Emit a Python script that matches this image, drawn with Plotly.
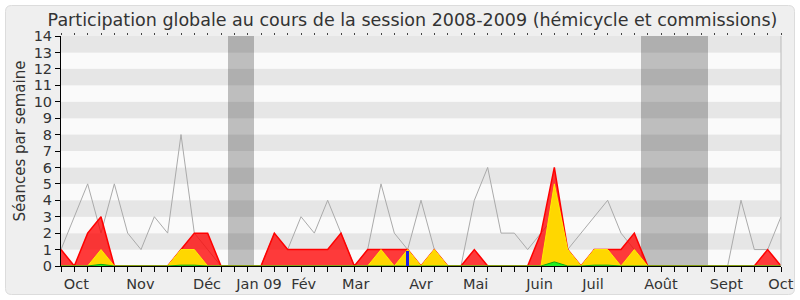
import plotly.graph_objects as go

# ---- data (one value per week, week 0 = first week of October 2008) ----
semaines = list(range(55))
presences = [1, 0, 2, 3, 0, 0, 0, 0, 0, 1, 2, 2, 0, 0, 0, 0, 2, 1, 1, 1,
             1, 2, 0, 1, 1, 1, 1, 0, 1, 0, 0, 1, 0, 0, 0, 0, 2, 6, 1, 0,
             1, 1, 1, 2, 0, 0, 0, 0, 0, 0, 0, 0, 0, 1, 0]
interventions = [0, 0, 0, 1, 0, 0, 0, 0, 0, 1, 1, 0, 0, 0, 0, 0, 0, 0, 0, 0,
                 0, 0, 0, 0, 1, 0, 1, 0, 1, 0, 0, 0, 0, 0, 0, 0, 0, 5, 1, 0,
                 1, 1, 0, 1, 0, 0, 0, 0, 0, 0, 0, 0, 0, 0, 0]
questions = [0, 0, 0, 0.1, 0, 0, 0, 0, 0, 0.05, 0.05, 0, 0, 0, 0, 0, 0, 0, 0, 0,
             0, 0, 0, 0, 0, 0, 0, 0, 0, 0, 0, 0, 0, 0, 0, 0, 0, 0.25, 0, 0,
             0.05, 0.05, 0, 0, 0, 0, 0, 0, 0, 0, 0, 0, 0, 0, 0]
mediane = [1, 3, 5, 2, 5, 2, 1, 3, 2, 8, 2, 1, 0, 0, 0, 0, 2, 1, 3, 2,
           4, 2, 0, 1, 5, 2, 1, 4, 1, 0, 0, 4, 6, 2, 2, 1, 2, 3, 1, 2,
           3, 4, 2, 1, 0, 0, 0, 0, 0, 0, 0, 4, 1, 1, 3]
vacances = [13, 14, 44, 45, 46, 47, 48]
special_semaines = [26]
special_valeurs = [0.9]
mois = ["Oct", "Nov", "Déc", "Jan 09", "Fév", "Mar", "Avr", "Mai", "Juin",
        "Juil", "Août", "Sept", "Oct"]
mois_pos = [1.15, 5.95, 10.95, 14.85, 18.2, 22.1, 27.0, 31.1, 35.9, 39.9,
            45.0, 49.9, 53.99]

FONT = "DejaVu Sans"
TXT = "#333333"
L, R, T, B = 61, 19, 36, 34
W, H = 800, 300
PW, PH = W - L - R, H - T - B


def px(xp):
    return (xp - L) / PW


def py(yp):
    return (H - B - yp) / PH


fig = go.Figure()

# vacation weeks (full height)
fig.add_trace(go.Bar(x=vacances, y=[14] * len(vacances), width=1,
                     marker=dict(color="rgba(0,0,0,0.24)", line=dict(width=0)),
                     hoverinfo="skip", showlegend=False))
# median line
fig.add_trace(go.Scatter(x=semaines, y=mediane, mode="lines",
                         line=dict(color="#AAAAAA", width=1), showlegend=False))
# presences (red)
fig.add_trace(go.Scatter(x=semaines, y=presences, mode="lines", fill="tozeroy",
                         fillcolor="rgba(255,0,0,0.77)",
                         line=dict(color="#FF0000", width=1.5), showlegend=False))
# interventions (yellow)
fig.add_trace(go.Scatter(x=semaines, y=interventions, mode="lines", fill="tozeroy",
                         fillcolor="#FFD700",
                         line=dict(color="#FFEE00", width=1), showlegend=False))
# questions (green)
fig.add_trace(go.Scatter(x=semaines, y=questions, mode="lines", fill="tozeroy",
                         fillcolor="#22EE22",
                         line=dict(color="#11AA11", width=1), showlegend=False))
# blue bar on overlay axis (drawn on top)
fig.add_trace(go.Bar(x=special_semaines, y=special_valeurs, width=0.26,
                     marker=dict(color="rgb(30,30,230)", line=dict(width=0)),
                     xaxis="x2", showlegend=False))

shapes = []
r = 6
x0, x1, y0, y1 = 5.5, 794.5, 5.5, 294.5
path = (f"M {px(x0 + r)} {py(y0)} L {px(x1 - r)} {py(y0)} "
        f"Q {px(x1)} {py(y0)} {px(x1)} {py(y0 + r)} "
        f"L {px(x1)} {py(y1 - r)} Q {px(x1)} {py(y1)} {px(x1 - r)} {py(y1)} "
        f"L {px(x0 + r)} {py(y1)} Q {px(x0)} {py(y1)} {px(x0)} {py(y1 - r)} "
        f"L {px(x0)} {py(y0 + r)} Q {px(x0)} {py(y0)} {px(x0 + r)} {py(y0)} Z")
shapes.append(dict(type="path", path=path, xref="paper", yref="paper",
                   fillcolor="#EFEFEF", line=dict(color="#DCDCDC", width=1),
                   layer="below"))
for i in range(14):
    shapes.append(dict(type="rect", xref="paper", yref="y", x0=0, x1=1,
                       y0=i, y1=i + 1, line=dict(width=0), layer="below",
                       fillcolor="#E6E6E6" if i % 2 == 1 else "#FAFAFA"))
shapes.append(dict(type="line", xref="paper", yref="paper", x0=1, x1=1, y0=0,
                   y1=1, line=dict(color="#BBBBBB", width=1)))

fig.update_layout(
    width=W, height=H,
    margin=dict(l=L, r=R, t=T, b=B, pad=0, autoexpand=False),
    paper_bgcolor="white", plot_bgcolor="rgba(0,0,0,0)",
    barmode="overlay", bargap=0,
    shapes=shapes,
    showlegend=False,
    title=dict(text="Participation globale au cours de la session 2008-2009 (hémicycle et commissions)",
               font=dict(family=FONT, size=17.5, color=TXT),
               x=412.5 / W, xref="container", xanchor="center",
               y=1 - 19.5 / H, yref="container", yanchor="middle"),
    xaxis=dict(range=[0, 54], showgrid=False, zeroline=False, automargin=False,
               showline=True, linecolor="black", linewidth=1,
               tickmode="array", tickvals=mois_pos, ticktext=mois,
               ticks="outside", ticklen=5, tickcolor="rgba(0,0,0,0)",
               tickfont=dict(family=FONT, size=14.5, color=TXT),
               minor=dict(ticks="outside", ticklen=5, tickcolor="black",
                          tickmode="linear", tick0=0, dtick=1, showgrid=False)),
    xaxis2=dict(range=[0, 54], overlaying="x", side="top", anchor="y",
                showgrid=False, zeroline=False, showline=False, automargin=False,
                tickmode="linear", tick0=0, dtick=1, ticks="outside",
                ticklen=2, tickcolor="#444444", showticklabels=False),
    yaxis=dict(range=[0, 14], showgrid=False, zeroline=False, automargin=False,
               showline=True, linecolor="black", linewidth=1,
               tickmode="linear", tick0=0, dtick=1, ticks="outside",
               ticklen=5, tickcolor="black",
               tickfont=dict(family=FONT, size=14.5, color=TXT)),
    annotations=[dict(text="Séances par semaine", textangle=-90,
                      xref="paper", yref="paper", x=px(19), y=py(141.5),
                      xanchor="center", yanchor="middle", showarrow=False,
                      font=dict(family=FONT, size=15, color=TXT))],
)

fig.write_html("out.html")
